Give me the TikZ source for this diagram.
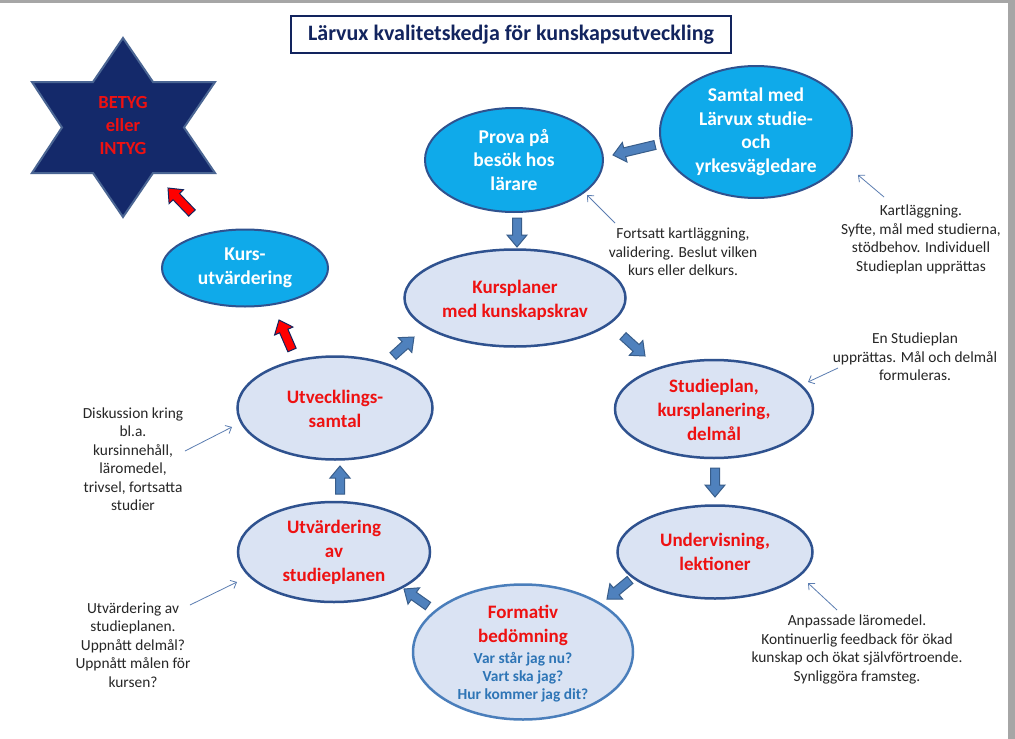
\documentclass[tikz,border=0pt]{standalone}
\usepackage{fontspec}
\setmainfont{Carlito}
\usetikzlibrary{shapes.geometric,arrows.meta,calc}
\definecolor{navy}{HTML}{12245E}
\definecolor{ellfill}{HTML}{DAE3F3}
\definecolor{ellborder}{HTML}{2F528F}
\definecolor{brightfill}{HTML}{0FAAEA}
\definecolor{formborder}{HTML}{4A7EBB}
\definecolor{redtxt}{HTML}{EE1111}
\definecolor{blueq}{HTML}{2E75B6}
\definecolor{arrfill}{HTML}{4F81BD}
\definecolor{arrborder}{HTML}{385D8A}
\definecolor{thinarr}{HTML}{5B7DB1}
\definecolor{starfill}{HTML}{14296A}
\definecolor{starborder}{HTML}{4A6593}
\definecolor{framegray}{HTML}{A6A6A6}
\tikzset{
  mainell/.style={ellipse, draw=ellborder, line width=2.5pt, fill=ellfill, inner sep=0pt},
  brightell/.style={ellipse, draw=ellborder, line width=2pt, fill=brightfill, inner sep=0pt},
  redt/.style={align=center, text=redtxt, font=\bfseries\fontsize{19}{24}\selectfont, inner sep=0pt},
  whitet/.style={align=center, text=white, font=\bfseries\fontsize{19.5}{23.5}\selectfont, inner sep=0pt},
  note/.style={align=center, text=black!85, font=\fontsize{15.4}{18.5}\selectfont, inner sep=0pt},
  thinarrow/.style={draw=thinarr, line width=0.8pt, -{Straight Barb[length=5pt,width=9pt]}},
  blockarrow/.style={draw=arrborder, fill=#1, line width=1pt, line join=miter,
    to path={let \p1=(\tikztostart), \p2=(\tikztotarget),
      \n1={atan2(\y2-\y1,\x2-\x1)}, \n2={veclen(\x2-\x1,\y2-\y1)} in
      ([shift={(\p1)},rotate=\n1]0pt,-4.5pt) --
      ([shift={(\p1)},rotate=\n1]\n2-12pt,-4.5pt) --
      ([shift={(\p1)},rotate=\n1]\n2-12pt,-10pt) --
      ([shift={(\p1)},rotate=\n1]\n2,0pt) --
      ([shift={(\p1)},rotate=\n1]\n2-12pt,10pt) --
      ([shift={(\p1)},rotate=\n1]\n2-12pt,4.5pt) --
      ([shift={(\p1)},rotate=\n1]0pt,4.5pt) -- cycle}},
  blockarrow/.default=arrfill
}
\begin{document}
\begin{tikzpicture}[x=1pt,y=-1pt]
\useasboundingbox (0,0) rectangle (1015,739);
\fill[white] (0,0) rectangle (1015,739);
% frame
\fill[framegray] (0,0) rectangle (1015,3);
\fill[framegray] (1008,0) rectangle (1015,739);

% title
\node[draw=navy, line width=2.5pt, fill=white, minimum width=440, minimum height=37, inner sep=0pt,
      text=navy, font=\bfseries\fontsize{22}{26}\selectfont] (title) at (511,34.5)
      {Lärvux kvalitetskedja för kunskapsutveckling};

% star
\coordinate (star) at (123,127);
\filldraw[fill=starfill, draw=starborder, line width=2pt, line join=miter]
  (123,38) -- (153,82) -- (215,82) -- (184,127.5) -- (215,173) -- (153,173) --
  (123,217) -- (93,173) -- (32,173) -- (62,127.5) -- (32,82) -- (93,82) -- cycle;
\node[align=center, text=redtxt, font=\bfseries\fontsize{18.5}{23}\selectfont, inner sep=0pt]
  (startext) at (123,125) {BETYG\\eller\\INTYG};

% bright ellipses
\node[brightell, minimum width=166, minimum height=77] (ku) at (245,268) {};
\node[whitet] at (ku) {Kurs-\\utvärdering};
\node[brightell, minimum width=178, minimum height=104] (pr) at (514,160) {};
\node[whitet] at (pr) {Prova på\\besök hos\\lärare};
\node[brightell, minimum width=192, minimum height=132] (sm) at (756,132) {};
\node[whitet] at (sm) {Samtal med\\Lärvux studie-\\och\\yrkesvägledare};

% main ellipses
\node[mainell, minimum width=221, minimum height=97] (kp) at (515,298) {};
\node[redt] at ([yshift=-2pt]kp.center) {Kursplaner\\med kunskapskrav};
\node[mainell, minimum width=198, minimum height=98] (sp) at (714,409) {};
\node[redt] at ([yshift=-1pt]sp.center) {Studieplan,\\kursplanering,\\delmål};
\node[mainell, minimum width=195, minimum height=93] (uv) at (715,552) {};
\node[redt] at (uv) {Undervisning,\\lektioner};
\node[mainell, draw=formborder, minimum width=220, minimum height=135] (fb) at (523,652) {};
\node[redt] at ([yshift=27pt]fb.center) {Formativ\\bedömning};
\node[align=center, text=blueq, font=\bfseries\fontsize{15.4}{18}\selectfont, inner sep=0pt]
  at ([yshift=-25pt]fb.center) {Var står jag nu?\\Vart ska jag?\\Hur kommer jag dit?};
\node[mainell, minimum width=192, minimum height=100] (ut) at (334,552) {};
\node[redt] at (ut) {Utvärdering\\av\\studieplanen};
\node[mainell, minimum width=195, minimum height=103] (us) at (335,408) {};
\node[redt] at ([yshift=-1pt]us.center) {Utvecklings-\\samtal};

% notes
\node[note] (n1) at (683,252) {Fortsatt kartläggning,\\validering. Beslut vilken\\kurs eller delkurs.};
\node[note] (n2) at (921,239.5) {Kartläggning.\\Syfte, mål med studierna,\\stödbehov. Individuell\\Studieplan upprättas};
\node[note] (n3) at (915,357) {En Studieplan\\upprättas. Mål och delmål\\formuleras.};
\node[note] (n4) at (857,649.5) {Anpassade läromedel.\\Kontinuerlig feedback för ökad\\kunskap och ökat självförtroende.\\Synliggöra framsteg.};
\node[note] (n5) at (133,645) {Utvärdering av\\studieplanen.\\Uppnått delmål?\\Uppnått målen för\\kursen?};
\node[note] (n6) at (133,459) {Diskussion kring\\bl.a.\\kursinnehåll,\\läromedel,\\trivsel, fortsatta\\studier};

% thin arrow endpoints
\coordinate (t1s) at (615,223); \coordinate (t1e) at (587,195);
\coordinate (t2s) at (884,197); \coordinate (t2e) at (858,175);
\coordinate (t3s) at (838,368); \coordinate (t3e) at (808,382);
\coordinate (t4s) at (837,610); \coordinate (t4e) at (808,583);
\coordinate (t5s) at (190,605); \coordinate (t5e) at (237,582);
\coordinate (t6s) at (185,451); \coordinate (t6e) at (232,427);
\foreach \i in {1,...,6} { \draw[thinarrow] (t\i s) -- (t\i e); }

% block arrow endpoints
\coordinate (b1s) at (655,145); \coordinate (b1e) at (613,155);
\coordinate (b2s) at (517,218); \coordinate (b2e) at (517,247);
\coordinate (b3s) at (623,336); \coordinate (b3e) at (645,356);
\coordinate (b4s) at (715,468); \coordinate (b4e) at (715,497);
\coordinate (b5s) at (630,580); \coordinate (b5e) at (607,599);
\coordinate (b6s) at (428,606); \coordinate (b6e) at (404,589);
\coordinate (b7s) at (340,494); \coordinate (b7e) at (340,466);
\coordinate (b8s) at (393,356); \coordinate (b8e) at (414,337);
\foreach \i in {1,...,8} { \path[blockarrow] (b\i s) to (b\i e); }
\coordinate (r1s) at (292,350); \coordinate (r1e) at (279,320);
\coordinate (r2s) at (192,213); \coordinate (r2e) at (168,188);
\path[blockarrow=red, draw=navy] (r1s) to (r1e);
\path[blockarrow=red, draw=navy] (r2s) to (r2e);
\end{tikzpicture}
\end{document}
